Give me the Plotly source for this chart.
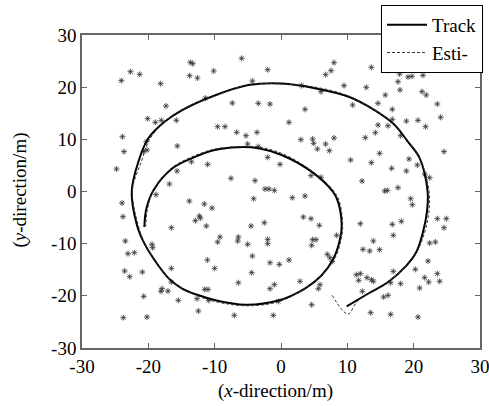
import plotly.graph_objects as go

# True track (x, y) in metres
track_x = [9.9, 13.1, 16.1, 18.9, 20.4, 21.4, 22.0, 22.1, 20.9, 19.1, 17.1, 14.1, 10.1, 5.1, 0.1,
           -4.9, -10.0, -14.9, -17.5, -20.0, -21.5, -22.5, -21.7, -20.7, -19.2, -16.9, -14.9, -12.4,
           -10.0, -5.4, -0.4, 3.6, 6.1, 7.9, 8.9, 9.15, 8.6, 7.8, 4.6, 0.1, -3.4, -6.5, -10.0, -13.4,
           -16.4, -19.2, -20.3, -20.6]
track_y = [-22.0, -19.6, -17.4, -14.2, -11.6, -7.8, -3.9, 0.0, 6.4, 9.6, 12.8, 15.6, 18.2, 19.8, 20.7,
           20.4, 18.4, 15.6, 13.4, 10.2, 5.7, 0.0, -6.5, -9.7, -12.9, -16.7, -18.6, -19.9,
           -20.8, -21.7, -20.9, -18.6, -16.1, -12.9, -9.1, -6.5, -2.0, 0.0, 3.8, 7.0, 8.3, 8.5, 7.95, 6.4,
           4.4, 0.3, -3.3, -6.8]

# Estimated track
est_x = [7.7, 10.1, 11.4, 13.2, 16.2, 19.1, 20.6, 21.7, 22.3, 22.3, 21.0, 19.3, 17.0, 14.0, 10.0, 5.2,
         0.2, -4.8, -10.0, -14.8, -17.6, -19.8, -21.0, -22.4, -21.5, -20.6, -19.0, -16.8, -14.7, -12.2,
         -9.9, -5.3, -0.3, 3.8, 6.3, 8.2, 9.1, 9.3, 8.8, 7.9, 4.7, 0.3, -3.3, -6.5, -10.1, -13.5, -16.5,
         -19.1, -20.1, -20.4]
est_y = [-19.9, -23.5, -21.2, -19.5, -17.2, -14.0, -11.3, -7.6, -3.8, 0.2, 6.2, 9.4, 12.9, 15.7, 18.4, 20.0,
         20.6, 20.5, 18.3, 15.8, 13.3, 10.0, 5.9, 0.2, -6.6, -9.8, -13.1, -16.9, -18.8, -20.2,
         -21.1, -21.9, -21.1, -18.4, -15.8, -12.6, -9.0, -6.4, -1.9, 0.2, 3.9, 7.2, 8.5, 8.6, 8.1, 6.6, 4.5,
         0.6, -3.2, -6.7]

# Measurements (clutter and target returns)
meas_x = [-13.67, -13.3, -22.7, -24.07, -21.3, -18.14, -13.77, -12.6, -10.15, -17.34, -20.1, -18.94,
          -18.04, -15.78, -23.9, -20.3, -23.67, -20.7, -20.2, -15.63, -24.8, -13.5, -11.06, -15.68,
          -16.83, -11.4,
          -5.93, -2.01, 7.99, 7.54, 6.73, -4.32, 3.12, 9.5, 6.03, -7.34, -3.42, -1.66, 3.62, 1.2, -9.55,
          -8.44, -6.68, -5.28, -3.62, -5.03, 3.0, 4.77, 4.92, 6.73, 7.99, 5.48, 7.29, -3.42, -2.01,
          -0.15, 4.52, 6.03, -7.54, -3.92, -2.41, -1.81, -1.0,
          13.62, 16.13, 17.89, 19.15, 19.75, 21.4, 17.64, 12.86, 17.94, 21.26, 21.9, 15.73, 10.8,
          14.62, 23.57, 16.78, 24.07, 16.78, 18.9, 20.65, 21.8, 14.62, 16.13, 14.22, 18.04, 12.71,
          24.57, 14.87, 10.5, 13.62, 19.3, 20.55, 16.68, 18.9, 22.41, 21.66, 12.21, 17.64, 15.63, 16.03,
          -18.84, -23.97, -13.82, -11.56, -10.4, -12.31, -12.16, -12.91, -11.26, -23.82, -16.53,
          -23.47, -19.45, -19.35, -23.07, -22.11, -11.1, -10.0, -16.53, -23.57, -20.9, -22.81,
          -17.94, -18.09, -17.04, -16.53, -11.5, -11.0, -20.7, -15.48, -12.66, -10.9, -12.46,
          -23.77, -20.2,
          -4.12, 1.71, 3.62, 3.37, 4.52, 5.78, -2.51, -4.52, -9.2, -9.55, -6.43, -6.53, -5.03, -2.01,
          -2.01, 4.77, 5.28, 4.62, 8.39, -4.32, -1.66, -0.25, 1.21, 6.98, 7.39, 7.74, -4.42, -6.43,
          -1.0, -1.66, 2.86, 5.88, 5.63, 4.62, -7.04, -1.16, -0.4,
          19.55, 19.8, 23.57, 24.92, 24.57, 11.96, 16.78, 18.14, 16.93, 13.92, 12.36, 13.37, 14.87,
          22.41, 23.27, 22.16, 20.25, 16.93, 23.57, 21.66, 22.26, 23.92, 11.36, 11.96, 11.71, 12.96,
          13.62, 13.92, 18.04, 16.53, 20.9, 12.26, 15.48, 16.13, 13.52, 16.53, 20.65]
meas_y = [24.76, 24.5, 22.97, 21.25, 22.46, 20.67, 22.2, 21.76, 23.1, 16.4, 13.96, 13.26,
          13.64, 13.64, 10.5, 9.55, 7.64, 7.64, 7.95, 8.72, 4.31, 5.7, 5.2, 3.93,
          1.44, 17.9,
          25.53, 23.35, 24.7, 23.16, 22.4, 21.18, 20.3, 20.3, 19.14, 16.96, 16.9, 16.77, 15.75, 13.26, 12.43,
          12.43, 11.34, 10.7, 11.34, 9.1, 9.94, 10.06, 9.23, 9.1, 10.26, 8.15, 7.83, 8.6, 6.55,
          5.2, 3.04, 2.72, 2.52, 2.08, 0.48, 0.48, 0.22,
          23.8, 23.23, 22.52, 21.95, 22.08, 22.27, 21.05, 19.97, 19.46, 19.14, 18.5, 18.5, 16.58,
          16.9, 16.77, 15.75, 14.22, 13.83, 13.5, 13.64, 12.43, 12.75, 12.6, 11.28, 10.7, 10.32,
          7.64, 7.32, 6.04, 5.53, 6.23, 5.08, 4.44, 3.93, 2.65, 3.29, 2.01, 0.73, 0.1, 0.22,
          -0.61, -2.21, -1.83, -2.4, -3.17, -4.7, -5.08, -5.6, -6.62, -4.83, -6.94,
          -9.49, -10.13, -10.77, -11.92, -11.73, -13.13, -14.73, -14.73, -15.24, -15.44, -16.33,
          -18.63, -19.14, -19.08, -17.35, -18.76, -18.76, -20.1, -20.87, -20.55, -20.87, -22.91,
          -24.19, -24.06,
          -1.38, -1.19, -0.87, -4.89, -5.21, -6.49, -5.98, -6.62, -8.73, -9.68, -8.73, -9.49, -10.13, -9.17,
          -10.0, -9.24, -9.24, -10.32, -8.4, -12.37, -13.65, -13.97, -13.13, -12.05, -12.69, -13.4, -15.56, -17.48,
          -17.86, -18.63, -17.22, -17.86, -18.63, -21.7, -23.74, -23.74, -21.06,
          -1.38, -2.53, -5.21, -5.21, -6.94, -6.17, -6.3, -5.72, -8.4, -9.49, -11.09, -11.41, -11.15,
          -9.88, -9.68, -13.33, -14.92, -15.31, -15.75, -16.52, -17.35, -17.22, -15.95, -15.75, -17.03, -16.52,
          -16.9, -17.22, -17.67, -17.48, -18.5, -19.14, -20.23, -19.91, -23.23, -23.55, -24.06]

tick_vals = [-30, -20, -10, 0, 10, 20, 30]
tick_text = ["-30", "-20", "-10", "0", "10", "20", "30"]
x_title = "(<i>x</i>-direction/m)"
y_title = "(<i>y</i>-direction/m)"

FONT = "Liberation Serif"

fig = go.Figure()
fig.add_trace(go.Scatter(x=meas_x, y=meas_y, mode="markers", showlegend=False,
                         marker=dict(symbol="asterisk-open", size=5, color="#333",
                                     line=dict(color="#333", width=0.8))))
fig.add_trace(go.Scatter(x=track_x, y=track_y, mode="lines", name="Track",
                         line=dict(color="black", width=2, shape="spline", smoothing=1)))
fig.add_trace(go.Scatter(x=est_x, y=est_y, mode="lines", name="Esti-",
                         line=dict(color="#333", width=1, dash="3px,2px", shape="spline", smoothing=1)))

axis_common = dict(range=[-30, 30], tickvals=tick_vals, ticktext=tick_text, automargin=False,
                   showline=True, linecolor="#666", linewidth=1.5, mirror="ticks",
                   ticks="inside", ticklen=5, tickcolor="#666", showgrid=False, zeroline=False,
                   ticklabeloverflow="allow",
                   tickfont=dict(family=FONT, size=19, color="black"))

fig.update_layout(
    width=489, height=406,
    margin=dict(l=82, r=9, t=35, b=58, autoexpand=False),
    paper_bgcolor="white", plot_bgcolor="white",
    font=dict(family=FONT, color="black"),
    xaxis=dict(**axis_common),
    yaxis=dict(**axis_common),
    legend=dict(x=1.0075, y=1.096, xanchor="right", yanchor="top", bgcolor="white",
                bordercolor="black", borderwidth=1, font=dict(family=FONT, size=19),
                tracegroupgap=0, itemwidth=40),
    showlegend=True,
    annotations=[
        dict(text=x_title, xref="paper", yref="paper", x=0.5, y=0, xanchor="center",
             yanchor="middle", xshift=-6, yshift=-43, showarrow=False,
             font=dict(family=FONT, size=19, color="black")),
        dict(text=y_title, xref="paper", yref="paper", x=0, y=0.5, xanchor="center",
             yanchor="middle", xshift=-63, yshift=1, textangle=-90, showarrow=False,
             font=dict(family=FONT, size=19, color="black")),
    ],
)

fig.write_html("out.html", config={"displayModeBar": False},
               post_script="document.body.style.margin='0px';")
